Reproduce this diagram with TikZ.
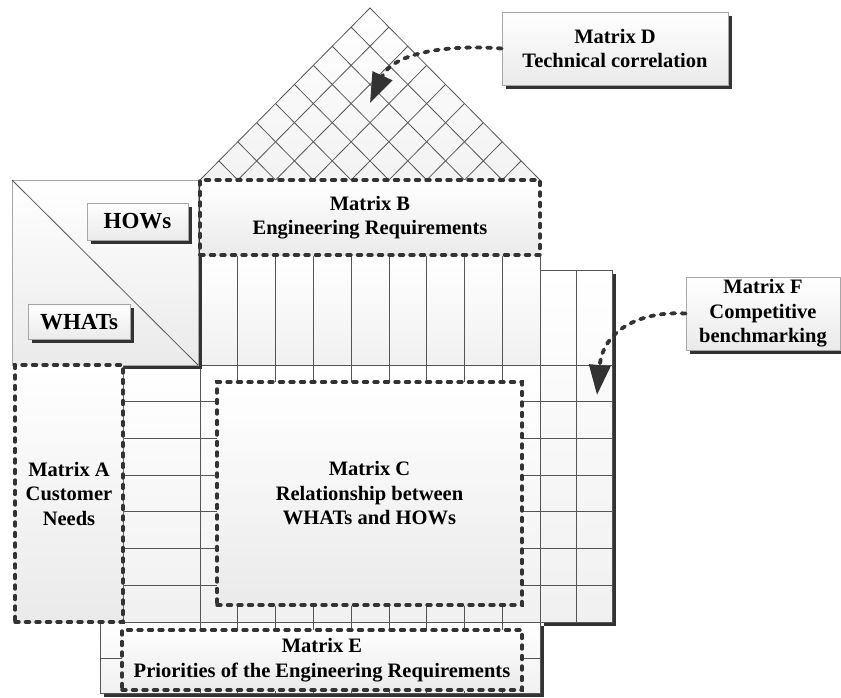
\documentclass[tikz,border=0pt]{standalone}
\usepackage{fontspec}
\setmainfont{Liberation Serif}
\usetikzlibrary{arrows.meta,shadows,calc}
\definecolor{dk}{HTML}{333333}
\definecolor{ln}{HTML}{555555}
\definecolor{fl}{HTML}{EAEAEA}
\begin{document}
\begin{tikzpicture}[x=1pt,y=-1pt,
  txt/.style={font=\bfseries\fontsize{20.5}{24.5}\selectfont, align=center, text=black},
  bigtxt/.style={font=\bfseries\fontsize{23}{26}\selectfont, align=center, text=black},
  dbox/.style={draw=dk, line width=3.4pt, dash pattern=on 4pt off 6.5pt, line cap=round,
    top color=white, bottom color=fl, inner sep=0pt},
  sbox/.style={draw=gray!70, line width=0.8pt, top color=white, bottom color=fl, inner sep=0pt,
    drop shadow={shadow xshift=3.5pt, shadow yshift=-3.5pt, fill=dk, opacity=1}},
  region/.style={draw=ln, line width=0.8pt, top color=white, bottom color=fl!70},
  gridline/.style={draw=ln, line width=0.8pt},
  arr/.style={draw=dk, line width=3.8pt, dash pattern=on 4pt off 6.5pt, line cap=round,
    -{Triangle[length=30pt,width=21pt,line cap=butt]}}
]
\useasboundingbox (0,0) rectangle (841,697);
\fill[white] (0,0) rectangle (841,697);

% ---- roof (Matrix D grid)
\coordinate (RA) at (200,180);
\coordinate (RB) at (540,180);
\coordinate (RC) at (370,8);
\shade[top color=white, bottom color=fl!60] (RA) -- (RB) -- (RC) -- cycle;
\foreach \k in {1,...,8} {
  \draw[gridline] ($(RA)!\k/9!(RB)$) -- ($(RC)!\k/9!(RB)$);
  \draw[gridline] ($(RA)!\k/9!(RB)$) -- ($(RA)!\k/9!(RC)$);
}
\draw[gridline] (RA) -- (RC) -- (RB);

% ---- column area under Matrix B
\path[region] (200,255) rectangle (540,365);
% ---- row area (Matrix C)
\path[region] (123,365) rectangle (540,622);
% ---- Matrix F area
\path[region, drop shadow={shadow xshift=3.5pt, shadow yshift=-3.5pt, fill=dk, opacity=1}] (540,270) rectangle (612,622);
\draw[gridline] (576,270) -- (576,622);
% ---- bottom area (Matrix E)
\path[region, drop shadow={shadow xshift=3.5pt, shadow yshift=-3.5pt, fill=dk, opacity=1}] (100,622) rectangle (540,693);
\draw[gridline] (100,658) -- (540,658);
\foreach \i in {0,...,8} {
  \draw[gridline] ({200+\i*37.78},255) -- ({200+\i*37.78},693);
}
\foreach \j in {0,...,6} {
  \draw[gridline] (123,{365+\j*36.71}) -- (612,{365+\j*36.71});
}

% ---- top-left square
\path[sbox] (12,180) rectangle (198,365);
\draw[draw=ln, line width=0.8pt] (12,180) -- (198,365);

% ---- dashed matrices
\node[dbox, txt, minimum width=340pt, minimum height=75pt] (mB) at (370,217.5) {Matrix B\\Engineering Requirements};
\node[dbox, txt, minimum width=108pt, minimum height=257pt] (mA) at (69,493.5) {Matrix A\\Customer\\Needs};
\node[dbox, txt, minimum width=305pt, minimum height=223pt] (mC) at (369.5,493.5) {Matrix C\\Relationship between\\WHATs and HOWs};
\node[dbox, txt, minimum width=400pt, minimum height=60pt] (mE) at (322,660) {Matrix E\\Priorities of the Engineering Requirements};

% ---- labels in the corner square
\node[sbox, bigtxt, minimum width=101pt, minimum height=37pt] (hows) at (137.5,221.5) {HOWs};
\node[sbox, bigtxt, minimum width=102pt, minimum height=35pt] (whats) at (79,322) {WHATs};

% ---- callouts
\node[sbox, txt, minimum width=226pt, minimum height=73pt] (mD) at (615,48.5) {Matrix D\\Technical correlation};
\node[sbox, txt, minimum width=154pt, minimum height=73pt] (mF) at (763,313.5) {Matrix F\\Competitive\\benchmarking};

\coordinate (tipD) at (370,103);
\coordinate (tipF) at (597,395);
\draw[arr] (mD.west) .. controls (440,44) and (392,55) .. (tipD);
\draw[arr] (mF.west) .. controls (640,311) and (603,330) .. (tipF);
\end{tikzpicture}
\end{document}
